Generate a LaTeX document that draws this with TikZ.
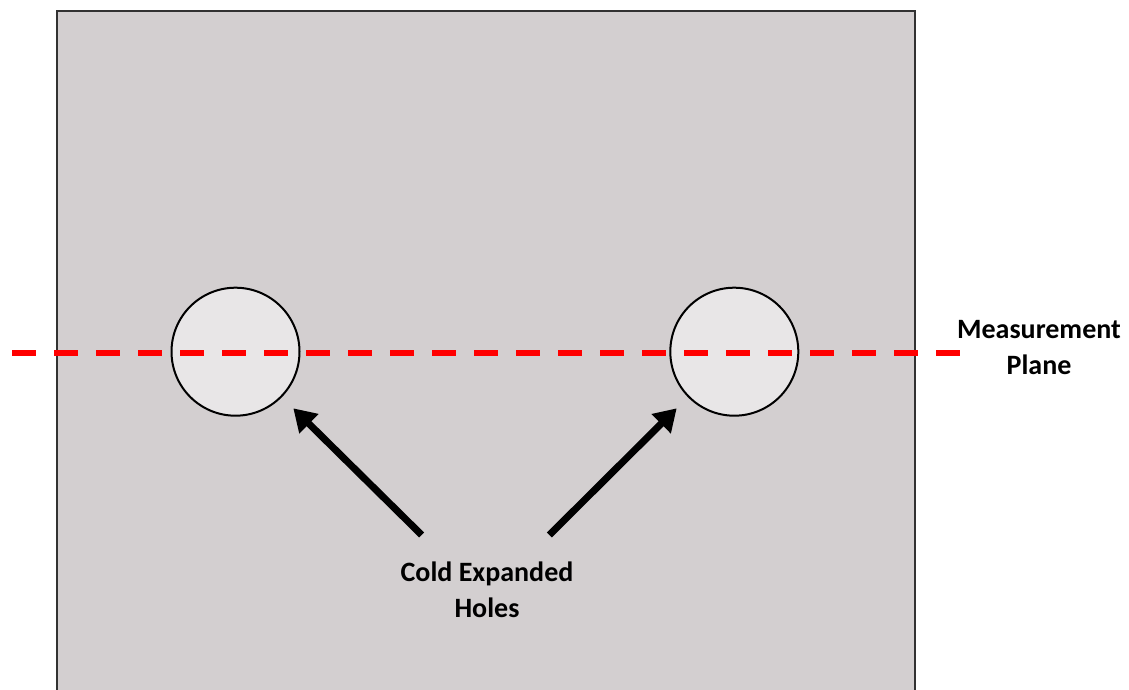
\documentclass[tikz,border=0pt]{standalone}
\usepackage{fontspec}
\setmainfont{Carlito}
\usetikzlibrary{arrows.meta}
\definecolor{plate}{RGB}{211,207,208}
\definecolor{holefill}{RGB}{232,230,231}
\definecolor{edge}{RGB}{50,50,50}
\tikzset{
  hole/.style={circle, draw=black, line width=2pt, fill=holefill, minimum size=128pt, inner sep=0pt},
  label/.style={align=center, font=\fontsize{28}{36}\selectfont\bfseries, text=black},
  pointer/.style={line width=7pt, -{Triangle[length=22pt,width=26pt]}},
  plane/.style={draw=red, line width=6pt, dash pattern=on 24pt off 18pt}
}
\begin{document}
\begin{tikzpicture}[x=1pt,y=-1pt]
\useasboundingbox (0,0) rectangle (1129,690);
\begin{scope}
\clip (0,0) rectangle (1129,690);
\draw[fill=plate, draw=edge, line width=2.5pt] (57,11) rectangle (915,710);
\end{scope}
\node[hole] (hole1) at (235.5,351.7) {};
\node[hole] (hole2) at (734.3,351.7) {};
\coordinate (pl) at (12,353.3);
\coordinate (pr) at (960,353.3);
\draw[plane] (pl) -- (pr);
\node[label] (mp) at (1039,348) {Measurement\\Plane};
\node[label] (ceh) at (487,590) {Cold Expanded\\Holes};
\coordinate (t1) at (421.7,535);
\coordinate (h1) at (293.3,408.3);
\coordinate (t2) at (549.3,535);
\coordinate (h2) at (676.7,408.3);
\draw[pointer] (t1) -- (h1);
\draw[pointer] (t2) -- (h2);
\end{tikzpicture}
\end{document}
